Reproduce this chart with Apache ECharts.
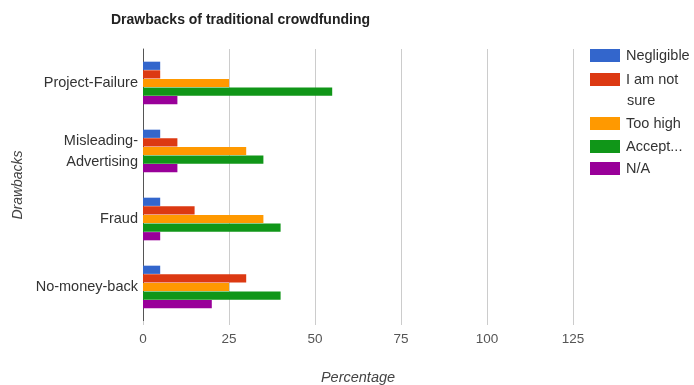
<!DOCTYPE html>
<html><head><meta charset="utf-8">
<script src="https://cdn.jsdelivr.net/npm/echarts@6/dist/echarts.min.js"></script>
<style>html,body{margin:0;padding:0;background:#fff}#c{width:694px;height:385px}</style>
</head><body><div id="c"></div>
<script>
const categories = ["Project-Failure", "Misleading-\nAdvertising", "Fraud", "No-money-back"];
const seriesNames = ["Negligible", "I am not sure", "Too high", "Accept...", "N/A"];
const negligible = [5, 5, 5, 5];
const notSure = [5, 10, 15, 30];
const tooHigh = [25, 30, 35, 25];
const accept = [55, 35, 40, 40];
const na = [10, 10, 5, 20];
const xTicks = [0, 25, 50, 75, 100, 125];
const colors = ["#3366cc", "#dc3912", "#ff9900", "#109618", "#990099"];
const values = [negligible, notSure, tooHigh, accept, na];
const font = "Arial, 'Liberation Sans', sans-serif";

const legendTops = [43, 67, 111, 134, 156];
const legends = seriesNames.map((n, i) => ({
  data: [n], left: 585, top: legendTops[i], orient: 'vertical',
  itemWidth: 30, itemHeight: 13, itemGap: 6, itemStyle: {borderWidth: 0},
  icon: 'rect', selectedMode: false,
  textStyle: {fontFamily: font, fontSize: 14.5, color: '#333', padding: [0, 0, 0, 1]},
  formatter: n === "I am not sure" ? "I am not" : n
}));

const chart = echarts.init(document.getElementById('c'));
chart.setOption({
  animation: false,
  color: colors,
  title: {text: "Drawbacks of traditional crowdfunding", left: 106, top: 8,
    textStyle: {fontFamily: "'Liberation Sans Narrow', 'Arial Narrow', sans-serif", fontSize: 14, fontWeight: 'bold', color: '#222'}},
  legend: legends,
  graphic: [{type: 'text', left: 627, top: 93, style: {text: 'sure', font: "14.5px " + font, fill: '#333'}}],
  grid: {left: 143, right: 121, top: 49, bottom: 64, outerBoundsMode: 'none', containLabel: false},
  xAxis: {type: 'value', min: xTicks[0], max: xTicks[xTicks.length-1], interval: 25,
    name: 'Percentage', nameLocation: 'middle', nameGap: 49,
    nameTextStyle: {fontFamily: font, fontSize: 14.5, fontStyle: 'italic', color: '#444'},
    axisLine: {show: false},
    axisTick: {show: true, length: 4, lineStyle: {color: '#ccc'}},
    axisLabel: {fontFamily: font, fontSize: 13.5, color: '#555', margin: 11},
    splitLine: {show: true, lineStyle: {color: '#ccc'}}},
  yAxis: {type: 'category', data: categories, inverse: true,
    name: 'Drawbacks', nameLocation: 'middle', nameGap: 117,
    nameTextStyle: {fontFamily: font, fontSize: 14, fontStyle: 'italic', color: '#444'},
    axisLine: {show: true, lineStyle: {color: '#555', width: 1}},
    axisTick: {show: false},
    axisLabel: {fontFamily: font, fontSize: 14.5, color: '#333', margin: 5, lineHeight: 21}},
  series: seriesNames.map((n, i) => ({
    name: n, type: 'bar', data: values[i], barWidth: 8.2, barGap: '5%',
    itemStyle: {color: colors[i]}
  }))
});
</script></body></html>
